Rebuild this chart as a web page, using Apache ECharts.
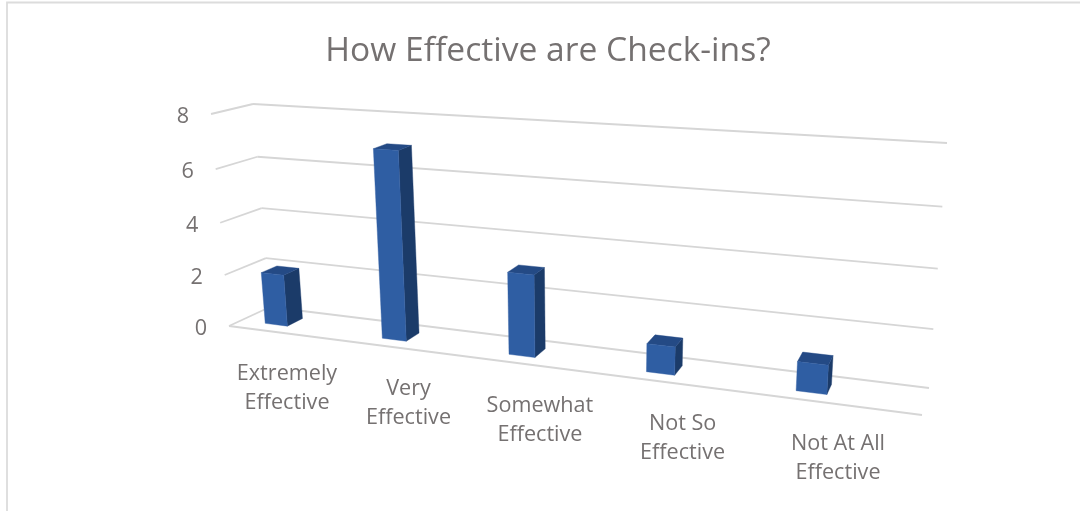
<!DOCTYPE html>
<html>
<head>
<meta charset="utf-8">
<style>html,body{margin:0;padding:0;background:#fff}#chart{width:1080px;height:511px}</style>
<script src="https://cdn.jsdelivr.net/npm/echarts@6/dist/echarts.min.js"></script>
</head>
<body>
<div id="chart"></div>
<script>
const chartTitle = 'How Effective are Check-ins?';
const categories = ['Extremely\nEffective', 'Very\nEffective', 'Somewhat\nEffective', 'Not So\nEffective', 'Not At All\nEffective'];
const responses = [2, 7, 3, 1, 1];
const yTicks = [0, 2, 4, 6, 8];
const yMax = 8;

// Corners of the tilted plot box in page pixels: front and back edge, at floor and at the top tick.
const box = {
  front: { floorL: [229, 326], floorR: [922, 415], topL: [211, 114], topR: [940, 161] },
  back:  { floorL: [270, 307], floorR: [929, 388], topL: [253, 104], topR: [947, 143] }
};
// Rulers for the labels that sit outside the box.
const catLabelRuler = [[251, 384], [954, 472.5]];
const tickLabelShift = [-28, 3];
const barFrontDepth = 0.3, barBackDepth = 0.69, barWidthRatio = 0.195;
const colors = { front: '#2f5ea3', top: '#244a85', side: '#1b3b69', grid: '#d6d6d6', text: '#757171' };
const labelFont = '400 21.6px "Open Sans", sans-serif';

const mix = (a, b, t) => [a[0] + (b[0] - a[0]) * t, a[1] + (b[1] - a[1]) * t];
// Foreshortening across the width and up the height of the box.
const warpU = u => (0.8064 * u - 0.0304) / (1 - 0.1858 * u);
const warpV = v => v / (v + 1.053 * (1 - v));

function corners(plane, uw, vw) {
  return mix(mix(plane.floorL, plane.floorR, uw), mix(plane.topL, plane.topR, uw), vw);
}
function project(uw, vw, depth) {
  return mix(corners(box.front, uw, vw), corners(box.back, uw, vw), depth);
}
// Read a data position through the chart's own axes, as fractions of the grid.
function toUnit(params, api, cat, val) {
  const cs = params.coordSys;
  const p = api.coord([cat, val]);
  return [(p[0] - cs.x) / cs.width, 1 - (p[1] - cs.y) / cs.height];
}
function poly(points, fill) {
  return { type: 'polygon', shape: { points: points }, style: { fill: fill, stroke: fill, lineWidth: 0.4 } };
}
function seg(a, b) {
  return { type: 'line', shape: { x1: a[0], y1: a[1], x2: b[0], y2: b[1] },
           style: { stroke: colors.grid, lineWidth: 1.8, fill: null } };
}

function renderGrid(params, api) {
  const tick = api.value(0);
  const v = warpV(toUnit(params, api, 0, tick)[1]);
  const children = [
    seg(project(0, v, 0), project(0, v, 1)),
    seg(project(0, v, 1), project(1, v, 1))
  ];
  if (tick === 0) children.push(seg(project(0, v, 0), project(1, v, 0)));
  const at = project(0, v, 0);
  children.push({ type: 'text', style: {
    text: String(tick), x: at[0] + tickLabelShift[0], y: at[1] + tickLabelShift[1],
    align: 'center', verticalAlign: 'middle', fill: colors.text, font: labelFont
  } });
  return { type: 'group', children: children };
}

function renderBar(params, api) {
  const cat = api.value(0), val = api.value(1);
  const half = api.size([1, 0])[0] * barWidthRatio / 2 / params.coordSys.width;
  const unit = toUnit(params, api, cat, val);
  const u0 = warpU(unit[0] - half), u1 = warpU(unit[0] + half);
  const v1 = warpV(unit[1]);
  const dF = barFrontDepth, dB = barBackDepth;
  return { type: 'group', children: [
    poly([project(u1, 0, dF), project(u1, 0, dB), project(u1, v1, dB), project(u1, v1, dF)], colors.side),
    poly([project(u0, v1, dF), project(u1, v1, dF), project(u1, v1, dB), project(u0, v1, dB)], colors.top),
    poly([project(u0, 0, dF), project(u1, 0, dF), project(u1, v1, dF), project(u0, v1, dF)], colors.front)
  ] };
}

function renderCatLabel(params, api) {
  const cat = api.value(0);
  const p = mix(catLabelRuler[0], catLabelRuler[1], warpU(toUnit(params, api, cat, 0)[0]));
  return { type: 'text', style: {
    text: categories[cat], x: p[0], y: p[1], align: 'center', verticalAlign: 'middle',
    fill: colors.text, font: labelFont, lineHeight: 29
  } };
}

const chart = echarts.init(document.getElementById('chart'), null, { renderer: 'canvas' });
chart.setOption({
  animation: false,
  backgroundColor: '#fff',
  title: {
    text: chartTitle, left: 543, top: 46, textAlign: 'center', textVerticalAlign: 'middle',
    textStyle: { color: colors.text, fontSize: 33.6, fontWeight: 400, fontFamily: '"Open Sans", sans-serif' }
  },
  grid: { left: 100, right: 100, top: 100, bottom: 100 },
  xAxis: { type: 'category', data: categories, show: false },
  yAxis: { type: 'value', min: 0, max: yMax, interval: 2, show: false },
  graphic: [{ type: 'polyline', silent: true,
    shape: { points: [[7, 512], [7, 2.5], [1081, 2.5]] },
    style: { stroke: '#dcdcdc', lineWidth: 1.8, fill: null } }],
  series: [
    { type: 'custom', coordinateSystem: 'cartesian2d', renderItem: renderGrid, silent: true, z: 1,
      encode: { y: 0 }, data: yTicks.map(t => [t]) },
    { type: 'custom', coordinateSystem: 'cartesian2d', renderItem: renderBar, silent: true, z: 2,
      encode: { x: 0, y: 1 }, data: responses.map((r, i) => [i, r]) },
    { type: 'custom', coordinateSystem: 'cartesian2d', renderItem: renderCatLabel, silent: true, z: 3,
      encode: { x: 0 }, data: categories.map((c, i) => [i]) }
  ]
});
</script>
</body>
</html>
